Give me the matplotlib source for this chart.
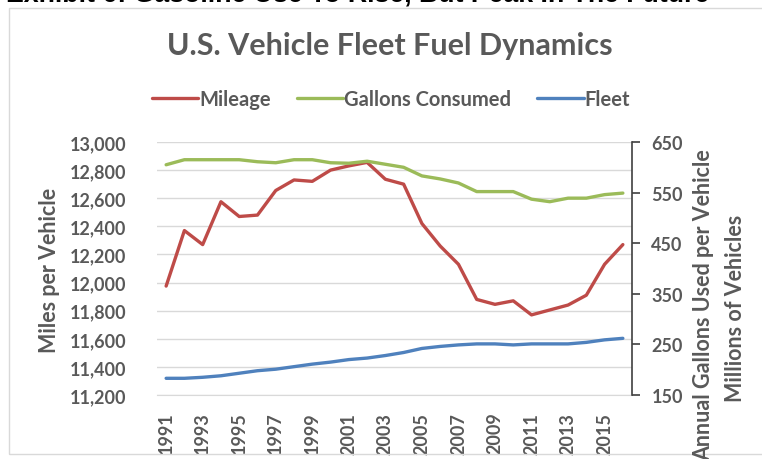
import numpy as np
import matplotlib.pyplot as plt
from matplotlib.patches import Rectangle

# values
years = list(range(1991, 2017))
mileage = [11975, 12370, 12270, 12575, 12470, 12480, 12655, 12730, 12720, 12800,
           12830, 12855, 12735, 12700, 12420, 12260, 12130, 11880, 11845, 11870,
           11770, 11805, 11840, 11910, 12130, 12270]
gallons = [605, 615, 615, 615, 615, 611, 609, 615, 615, 609,
           608, 612, 606, 600, 583, 577, 569, 552, 552, 552,
           537, 532, 539, 539, 546, 549]
fleet = [183, 183, 185, 188, 193, 198, 201, 206, 211, 215,
         220, 223, 228, 234, 242, 246, 249, 251, 251, 249,
         251, 251, 251, 254, 259, 262]
tick_years = years[::2]

gray = '#595959'
plt.rcParams['font.family'] = ['Lato', 'DejaVu Sans']

fig = plt.figure(figsize=(7.62, 4.60), dpi=100)
W, H = 762.0, 460.0

# chart frame and cut-off exhibit heading
fig.patches.append(Rectangle((9 / W, 1 - 455 / H), 770 / W, 446 / H, transform=fig.transFigure,
                             fill=False, edgecolor='#d9d9d9', linewidth=1))
fig.text(6 / W, 1 - 1 / H, 'Exhibit 6: Gasoline Use To Rise, But Peak In The Future',
         family='Liberation Sans', weight='bold', fontsize=19.3, color='black', va='baseline')

ax = fig.add_axes([157 / W, 1 - 396 / H, 475 / W, 253 / H])
ax2 = ax.twinx()

ax.plot(years, mileage, color='#be4b48', lw=2.4, label='Mileage', solid_capstyle='round')
ax2.plot(years, gallons, color='#9bbb59', lw=2.4, label='Gallons Consumed', solid_capstyle='round')
ax2.plot(years, fleet, color='#4f81bd', lw=2.4, label='Fleet', solid_capstyle='round')

ax.set_xlim(1990.5, 2016.5)
ax.set_ylim(11200, 13000)
ax.set_yticks(np.arange(11200, 13001, 200))
ax.set_yticklabels([f'{v:,}' for v in range(11200, 13001, 200)])
ax.grid(axis='y', color='#d9d9d9', lw=1)
ax.set_axisbelow(True)
ax.set_xticks(tick_years)
ax.set_xticklabels([str(y) for y in tick_years], rotation=90)

ax2.set_ylim(150, 650)
ax2.set_yticks(range(150, 651, 100))

for s in ['top', 'left', 'right']:
    ax.spines[s].set_visible(False)
ax.spines['bottom'].set_color('#d9d9d9')
for s in ['top', 'left', 'bottom']:
    ax2.spines[s].set_visible(False)
ax2.spines['right'].set_color('#404040')
ax2.spines['right'].set_linewidth(1.2)

ax.tick_params(axis='y', length=0, labelsize=13, labelcolor=gray, pad=22)
ax.tick_params(axis='x', length=0, labelsize=13, labelcolor=gray, pad=12)
ax2.tick_params(axis='y', length=6, width=1.2, color='#404040', direction='out',
                labelsize=13, labelcolor=gray, pad=8)
for lab in ax.get_yticklabels() + ax.get_xticklabels() + ax2.get_yticklabels():
    lab.set_fontweight('bold')

fig.text(49 / W, 1 - 270 / H, 'Miles per Vehicle', rotation=90, ha='center', va='center',
         fontsize=15.5, weight='bold', color=gray)
fig.text(704 / W, 1 - 305 / H, 'Annual Gallons Used per Vehicle', rotation=90, ha='center',
         va='center', fontsize=15.5, weight='bold', color=gray)
fig.text(736 / W, 1 - 308 / H, 'Millions of Vehicles', rotation=90, ha='center', va='center',
         fontsize=15.5, weight='bold', color=gray)

fig.text(390 / W, 1 - 46 / H, 'U.S. Vehicle Fleet Fuel Dynamics', ha='center', va='center',
         fontsize=22, weight='bold', color=gray)

h1, l1 = ax.get_legend_handles_labels()
h2, l2 = ax2.get_legend_handles_labels()
leg = fig.legend(h1 + h2, l1 + l2, loc='center', bbox_to_anchor=(391 / W, 1 - 100 / H),
                 ncol=3, frameon=False, handlelength=2.3, handletextpad=0.05, columnspacing=1.3,
                 prop={'family': 'Lato', 'weight': 'bold', 'size': 14.5})
for t in leg.get_texts():
    t.set_color(gray)

fig.savefig('out.png', dpi=100)
